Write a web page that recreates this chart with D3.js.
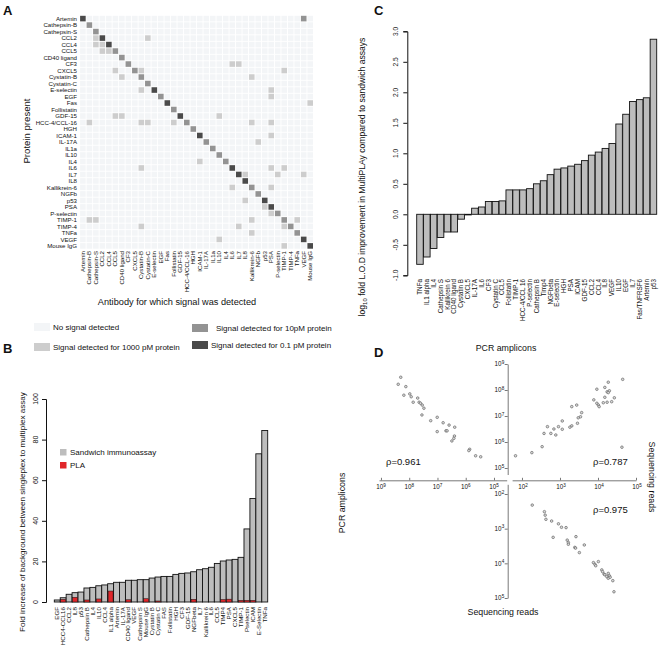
<!DOCTYPE html>
<html><head><meta charset="utf-8">
<script src="https://cdn.jsdelivr.net/npm/d3@7"></script>
<style>
html,body{margin:0;padding:0;background:#fff;}
text{font-family:"Liberation Sans",Arial,sans-serif;fill:#111;}
</style></head>
<body><svg id="chart" width="661" height="656"></svg>
<script>
// ---------- Panel A data ----------
const heatRows = ["Artemin","Cathepsin-B","Cathepsin-S","CCL2","CCL4","CCL5","CD40 ligand","CF3","CXCL5","Cystatin-B","Cystatin-C","E-selectin","EGF","Fas","Follistatin","GDF-15","HCC-4/CCL-16","HGH","ICAM-1","IL-17A","IL1a","IL10","IL4","IL6","IL7","IL8","Kallikrein-6","NGFb","p53","PSA","P-selectin","TIMP-1","TIMP-4","TNFa","VEGF","Mouse IgG"];
const heatCols = heatRows.slice();
// level: 0 none, 1 = 1000 pM, 2 = 10 pM, 3 = 0.1 pM
const diagLevel = [3,2,2,3,3,2,2,2,2,2,2,3,2,3,2,3,2,2,3,2,2,2,2,3,3,3,2,2,3,3,2,2,2,2,3,3];
const offDiag = [[0,34,2],[3,2,1],[3,10,1],[4,2,1],[4,3,1],[5,3,1],[5,4,1],[7,23,1],[7,24,1],[8,5,1],[8,9,1],[8,31,1],[9,6,1],[9,26,1],[11,9,1],[11,29,1],[12,29,1],[13,35,1],[15,5,1],[15,6,1],[15,21,1],[16,1,1],[16,9,1],[16,10,1],[16,14,1],[16,26,1],[16,29,1],[18,29,1],[19,27,1],[22,18,1],[23,9,1],[23,29,1],[23,31,1],[24,25,1],[24,30,1],[24,34,1],[26,23,1],[26,29,1],[28,25,1],[29,28,1],[30,29,1],[31,1,1],[31,2,1],[31,26,1],[31,33,1],[32,9,1],[32,24,1],[32,31,1],[33,26,1],[34,21,1],[35,31,1]];
const legendA = ["No signal detected","Signal detected for 1000 pM protein","Signal detected for 10pM protein","Signal detected for 0.1 pM protein"];

// ---------- Panel B data ----------
const bCats = ["EGF","HCC4-CCL16","CCL2","IL8","p53","Cathepsin B","IL4","IL10","CCL4","IL1 alpha","Artemin","IL-17A","CD40 ligand","VEGF","Cathepsin S","Mouse IgG","Cystatin B","Cystatin C","FAS","Follistatin","HGH","CF3","GDF-15","NGFbeta","IL7","Kallikrein 6","IL6","CCL5","TIMP4","PSA","CXCL5","TIMP-1","Pselectin","ICAM","E-Selectin","TNFa"];
const bSandwich = [1.0,2.1,3.8,4.6,4.9,6.9,7.2,8.0,8.4,9.0,9.7,9.7,10.7,10.7,11.0,11.0,11.8,12.3,12.6,12.6,13.6,14.1,14.3,14.9,15.9,16.4,17.1,19.0,20.2,20.7,21.0,22.0,36,51,73,84.5];
const bPLA = [0,1.3,0,2.3,0,1.0,0,1.5,0,5.4,0,0,1.1,0,0,1.6,0,0.5,0,0,0,0,0,1.3,0,0,0,0,1.2,1.4,0,0.8,0.8,0.8,0,0];
const bTicks = [0,20,40,60,80,100];

// ---------- Panel C data ----------
const cCats = ["TNFa","IL1 alpha","IL4","Cathepsin S","Kallikrein 6","CD40 ligand","Cystatin B","CXCL5","IL-17A","IL6","CF3","Cystatin C","CCL5","Follistatin","TIMP-1","HCC-4/CCL 16","P-selectin","Cathepsin B","Timp4","NGFbeta","E-selectin","HGH","PSA","ICAM","GDF-15","CCL2","CCL4","IL8","VEGF","IL10","EGF","IL7","Fas/TNFRSF6","Artemin","p53"];
const cValues = [-0.82,-0.70,-0.56,-0.38,-0.29,-0.29,-0.08,-0.01,0.10,0.12,0.21,0.21,0.22,0.40,0.40,0.40,0.42,0.50,0.55,0.65,0.74,0.76,0.79,0.82,0.88,0.97,1.02,1.08,1.16,1.48,1.64,1.85,1.88,1.91,2.87];
const cTicks = [-1,-0.5,0,0.5,1,1.5,2,2.5,3];

// ---------- Panel D data (log10 values) ----------
const dTopLeft = [[8.30,8.49],[8.39,8.22],[8.12,8.13],[8.19,7.80],[7.98,7.85],[7.93,7.74],[7.70,7.69],[7.86,7.53],[7.65,7.53],[7.60,7.49],[7.54,7.42],[7.48,7.30],[7.55,7.04],[7.24,6.82],[7.01,6.95],[6.80,6.74],[6.59,6.65],[6.39,6.57],[7.01,6.40],[6.70,6.43],[6.66,6.43],[6.40,6.23],[6.42,6.14],[6.49,6.04],[5.86,5.72],[5.89,5.67],[5.65,5.47],[5.47,5.43]];
const dTopRight = [[4.65,8.41],[4.27,8.30],[4.18,8.10],[3.97,8.03],[4.30,7.97],[4.24,7.93],[4.27,7.90],[4.43,7.70],[4.18,7.72],[4.14,7.51],[4.24,7.53],[4.36,7.55],[3.97,7.49],[4.01,7.42],[4.03,7.36],[3.89,7.62],[3.44,7.42],[3.31,7.36],[3.57,7.13],[3.54,6.97],[3.48,6.93],[3.46,6.72],[3.06,6.81],[2.96,6.59],[2.84,6.50],[2.67,6.59],[3.31,6.62],[3.26,6.57],[3.06,6.49],[2.58,6.33],[2.76,6.33],[2.89,6.27],[2.53,5.82],[2.26,5.59],[1.83,5.47],[4.63,5.80]];
const dBottomRight = [[2.27,2.32],[2.59,2.51],[2.61,2.61],[2.63,2.73],[2.78,2.78],[2.96,2.86],[3.04,2.96],[3.16,2.97],[2.82,3.25],[3.19,3.33],[3.22,3.40],[3.22,3.45],[3.42,3.23],[3.39,3.54],[3.41,3.56],[3.64,3.47],[3.51,3.69],[3.88,3.98],[3.92,4.03],[3.94,4.07],[4.01,3.95],[4.10,4.19],[4.12,4.24],[4.16,4.31],[4.18,4.33],[4.23,4.38],[4.27,4.43],[4.30,4.36],[4.32,4.40],[4.27,4.29],[4.39,4.50],[4.42,4.82]];
const rhoLabels = ["ρ=0.961","ρ=0.787","ρ=0.975"];

// =====================================================
const svg = d3.select("#chart");
svg.append("rect").attr("width",661).attr("height",656).attr("fill","#fff");
const levelColor = ["#f3f5f7","#cdcdcd","#939393","#4a4a4a"];

function panelLabel(t,x,y){
  svg.append("text").attr("x",x).attr("y",y).attr("font-size",13).attr("font-weight","bold").text(t);
}

// ---------- Panel A ----------
panelLabel("A",3,15);
const hx = d3.scaleBand().domain(heatCols).range([80.1,313.0]).paddingInner(0.14);
const hy = d3.scaleBand().domain(heatRows).range([15.8,248.7]).paddingInner(0.14);
const matrix = heatRows.map((r,i)=>heatCols.map((c,j)=> i===j ? diagLevel[i] : 0));
offDiag.forEach(([r,c,l])=>{ matrix[r][c]=l; });
const cells = [];
matrix.forEach((row,i)=>row.forEach((l,j)=>cells.push({r:heatRows[i],c:heatCols[j],l})));
const gA = svg.append("g");
gA.selectAll("rect.cell").data(cells).join("rect").attr("class","cell")
  .attr("x",d=>hx(d.c)).attr("y",d=>hy(d.r))
  .attr("width",hx.bandwidth()).attr("height",hy.bandwidth())
  .attr("fill",d=>levelColor[d.l]);
gA.selectAll("text.row").data(heatRows).join("text").attr("class","row")
  .attr("x",77).attr("y",d=>hy(d)+hy.bandwidth()/2+2.1)
  .attr("text-anchor","end").attr("font-size",6.1).text(d=>d);
gA.selectAll("text.col").data(heatCols).join("text").attr("class","col")
  .attr("transform",d=>`translate(${hx(d)+hx.bandwidth()/2+2.1},251) rotate(-90)`)
  .attr("text-anchor","end").attr("font-size",6.1).text(d=>d);
svg.append("text").attr("x",177).attr("y",305).attr("text-anchor","middle").attr("font-size",9.2)
  .text("Antibody for which signal was detected");
svg.append("text").attr("transform","translate(30,131) rotate(-90)").attr("text-anchor","middle")
  .attr("font-size",9.6).text("Protein present");
// legend A
const legPos = [[34,323],[34,343],[192,324],[192,341]];
legendA.forEach((t,i)=>{
  const [x,y] = legPos[i];
  svg.append("rect").attr("x",x).attr("y",y).attr("width",16).attr("height",8).attr("fill",levelColor[i]);
  svg.append("text").attr("x",i<2?53:(i===2?216:211)).attr("y",y+6.5).attr("font-size",8).text(t);
});

// ---------- Panel B ----------
panelLabel("B",3,353);
const bx = d3.scaleBand().domain(bCats).range([54.3,267.7]);
const by = d3.scaleLinear().domain([0,100]).range([602,399]);
const gB = svg.append("g");
gB.append("g").attr("transform","translate(46,0)")
  .call(d3.axisLeft(by).tickValues(bTicks).tickSize(4).tickFormat(""))
  .call(g=>g.selectAll("path,line").attr("stroke","#111"));
gB.selectAll("text.bt").data(bTicks).join("text").attr("class","bt")
  .attr("transform",d=>`translate(37.5,${by(d)}) rotate(-90)`)
  .attr("text-anchor","middle").attr("font-size",7).text(d=>d);
const bData = bCats.map((c,i)=>({c,s:bSandwich[i],p:bPLA[i]}));
gB.selectAll("rect.s").data(bData).join("rect").attr("class","s")
  .attr("x",d=>bx(d.c)).attr("width",bx.bandwidth())
  .attr("y",d=>by(d.s)).attr("height",d=>by(0)-by(d.s))
  .attr("fill","#bdbdbd").attr("stroke","#111").attr("stroke-width",0.9);
gB.selectAll("rect.p").data(bData.filter(d=>d.p>0)).join("rect").attr("class","p")
  .attr("x",d=>bx(d.c)+0.5).attr("width",bx.bandwidth()-1)
  .attr("y",d=>by(d.p)).attr("height",d=>by(0)-by(d.p))
  .attr("fill","#e0262a").attr("stroke","#111").attr("stroke-width",0.5);
gB.selectAll("text.bl").data(bCats).join("text").attr("class","bl")
  .attr("transform",d=>`translate(${bx(d)+bx.bandwidth()/2+2.1},607) rotate(-90)`)
  .attr("text-anchor","end").attr("font-size",6.2).text(d=>d);
svg.append("text").attr("transform","translate(25,512) rotate(-90)").attr("text-anchor","middle")
  .attr("font-size",8.1).text("Fold increase of background between singleplex to multiplex assay");
// legend B
svg.append("rect").attr("x",60).attr("y",449).attr("width",6.5).attr("height",6.5).attr("fill","#bdbdbd");
svg.append("text").attr("x",70).attr("y",455).attr("font-size",8).text("Sandwich immunoassay");
svg.append("rect").attr("x",60).attr("y",462).attr("width",6.5).attr("height",6.5).attr("fill","#e0262a");
svg.append("text").attr("x",70).attr("y",468).attr("font-size",8).text("PLA");

// ---------- Panel C ----------
panelLabel("C",374,15);
const cx = d3.scaleBand().domain(cCats).range([416.7,656.7]).paddingInner(0.05);
const cy = d3.scaleLinear().domain([-1,3]).range([275.3,31.3]);
const gC = svg.append("g");
gC.append("g").attr("transform","translate(407.3,0)")
  .call(d3.axisLeft(cy).tickValues(cTicks).tickSize(4).tickFormat(""))
  .call(g=>g.selectAll("path,line").attr("stroke","#111"));
gC.selectAll("text.ct").data(cTicks).join("text").attr("class","ct")
  .attr("transform",d=>`translate(397.5,${cy(d)}) rotate(-90)`)
  .attr("text-anchor","middle").attr("font-size",6.6).text(d=>d3.format(".1f")(d).replace("−","-"));
const cData = cCats.map((c,i)=>({c,v:cValues[i]}));
gC.selectAll("rect.cb").data(cData).join("rect").attr("class","cb")
  .attr("x",d=>cx(d.c)).attr("width",cx.bandwidth())
  .attr("y",d=>cy(Math.max(0,d.v))).attr("height",d=>Math.abs(cy(d.v)-cy(0)))
  .attr("fill","#bdbdbd").attr("stroke","#111").attr("stroke-width",0.9);
gC.selectAll("text.cl").data(cCats).join("text").attr("class","cl")
  .attr("transform",d=>`translate(${cx(d)+cx.bandwidth()/2+2.1},279) rotate(-90)`)
  .attr("text-anchor","end").attr("font-size",6.3).text(d=>d);
const cyl = svg.append("text").attr("transform","translate(365,177) rotate(-90)").attr("text-anchor","middle").attr("font-size",8.6);
cyl.append("tspan").text("log");
cyl.append("tspan").attr("font-size",6).attr("dy",2).text("10");
cyl.append("tspan").attr("dy",-2).text(" fold L.O.D improvement in MultiPLAy compared to sandwich assays");

// ---------- Panel D ----------
panelLabel("D",374,357);
const gD = svg.append("g");
const axX = 507.7, axY = 480.3;
const xL = d3.scaleLinear().domain([9.07,4.55]).range([379,506.7]);
const xR = d3.scaleLinear().domain([1.74,5]).range([512.1,636]);
const yT = d3.scaleLinear().domain([9,4.75]).range([364,474.5]);
const yB = d3.scaleLinear().domain([1.72,5]).range([484.3,598]);
const axStroke = "#555";
gD.append("g").attr("transform",`translate(0,${axY})`)
  .call(d3.axisBottom(xL).tickValues([9,8,7,6,5]).tickSize(-2.5).tickSizeOuter(0).tickFormat(""));
gD.append("g").attr("transform",`translate(0,${axY})`)
  .call(d3.axisBottom(xR).tickValues([2,3,4,5]).tickSize(-2.5).tickSizeOuter(0).tickFormat(""));
gD.append("g").attr("transform",`translate(${axX},0)`)
  .call(d3.axisLeft(yT).tickValues([9,8,7,6,5]).tickSize(3).tickSizeOuter(0).tickFormat(""));
gD.append("g").attr("transform",`translate(${axX},0)`)
  .call(d3.axisLeft(yB).tickValues([2,3,4,5]).tickSize(3).tickSizeOuter(0).tickFormat(""));
gD.selectAll("path,line").attr("stroke",axStroke).attr("stroke-width",0.8);
function powLabel(x,y,e,anchor){
  const t = gD.append("text").attr("x",x).attr("y",y).attr("text-anchor",anchor).attr("font-size",6.3).attr("fill","#333");
  t.append("tspan").text("10");
  t.append("tspan").attr("dy",-2.6).attr("font-size",4.6).text(e);
}
[9,8,7,6,5].forEach(e=>powLabel(xL(e),axY+9,e,"middle"));
[2,3,4,5].forEach(e=>powLabel(xR(e)+1,axY+9,e,"middle"));
[9,8,7,6,5].forEach(e=>powLabel(axX-3.5,yT(e)+2.3,e,"end"));
[2,3,4,5].forEach(e=>powLabel(axX-3.5,yB(e)+2.3,e,"end"));
function pts(data,sx,sy){
  gD.append("g").selectAll("circle").data(data).join("circle")
    .attr("cx",d=>sx(d[0])).attr("cy",d=>sy(d[1])).attr("r",1.3)
    .attr("fill","#d8d8d8").attr("stroke","#555").attr("stroke-width",0.6);
}
pts(dTopLeft,xL,yT);
pts(dTopRight,xR,yT);
pts(dBottomRight,xR,yB);
gD.append("text").attr("x",506).attr("y",351).attr("text-anchor","middle").attr("font-size",8.8).text("PCR amplicons");
gD.append("text").attr("x",503).attr("y",615).attr("text-anchor","middle").attr("font-size",8.8).text("Sequencing reads");
gD.append("text").attr("transform","translate(345,503) rotate(-90)").attr("text-anchor","middle").attr("font-size",8.8).text("PCR amplicons");
gD.append("text").attr("transform","translate(649,477) rotate(90)").attr("text-anchor","middle").attr("font-size",8.8).text("Sequencing reads");
const rhoPos = [[386,465],[593,465],[593,513]];
rhoLabels.forEach((t,i)=>gD.append("text").attr("x",rhoPos[i][0]).attr("y",rhoPos[i][1]).attr("font-size",9.5).text(t));
</script></body></html>
